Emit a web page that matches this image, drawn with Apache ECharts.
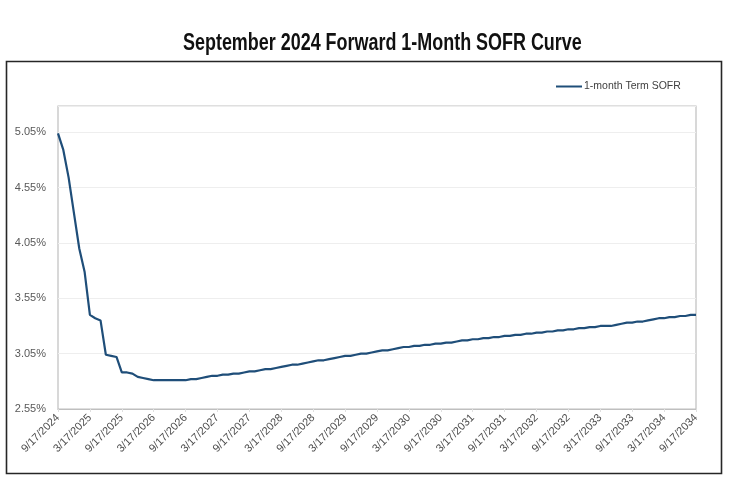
<!DOCTYPE html>
<html>
<head>
<meta charset="utf-8">
<script src="https://cdn.jsdelivr.net/npm/echarts@6/dist/echarts.min.js"></script>
<style>
html,body{margin:0;padding:0;background:#fff;}
#chart{width:739px;height:485px;}
</style>
</head>
<body>
<div id="chart"></div>
<script>
// Forward 1-month Term SOFR, monthly from 9/17/2024 to 9/17/2034 (percent)
const chartTitle = 'September 2024 Forward 1-Month SOFR Curve';
const seriesName = '1-month Term SOFR';
const sofrValues = [
  5.04, 4.89, 4.64, 4.32, 4.00, 3.79, 3.40, 3.37, 3.35, 3.04, 3.03, 3.02,
  2.88, 2.88, 2.87, 2.84, 2.83, 2.82, 2.81, 2.81, 2.81, 2.81, 2.81, 2.81,
  2.81, 2.82, 2.82, 2.83, 2.84, 2.85, 2.85, 2.86, 2.86, 2.87, 2.87, 2.88,
  2.89, 2.89, 2.90, 2.91, 2.91, 2.92, 2.93, 2.94, 2.95, 2.95, 2.96, 2.97,
  2.98, 2.99, 2.99, 3.00, 3.01, 3.02, 3.03, 3.03, 3.04, 3.05, 3.05, 3.06,
  3.07, 3.08, 3.08, 3.09, 3.10, 3.11, 3.11, 3.12, 3.12, 3.13, 3.13, 3.14,
  3.14, 3.15, 3.15, 3.16, 3.17, 3.17, 3.18, 3.18, 3.19, 3.19, 3.20, 3.20,
  3.21, 3.21, 3.22, 3.22, 3.23, 3.23, 3.24, 3.24, 3.25, 3.25, 3.26, 3.26,
  3.27, 3.27, 3.28, 3.28, 3.29, 3.29, 3.30, 3.30, 3.30, 3.31, 3.32, 3.33,
  3.33, 3.34, 3.34, 3.35, 3.36, 3.37, 3.37, 3.38, 3.38, 3.39, 3.39, 3.40,
  3.40
];
const yTickValues = [2.55, 3.05, 3.55, 4.05, 4.55, 5.05];
const startYear = 2024, startMonth = 9, dayOfMonth = 17;

// monthly category labels (M/17/YYYY)
const categories = sofrValues.map((v, i) => {
  const mIdx = startMonth - 1 + i;
  const y = startYear + Math.floor(mIdx / 12);
  const m = (mIdx % 12) + 1;
  return m + '/' + dayOfMonth + '/' + y;
});

const chart = echarts.init(document.getElementById('chart'), null, {renderer: 'canvas'});
const labelColor = '#595959';
const baseFont = 'Liberation Sans, Arial, sans-serif';

chart.setOption({
  animation: false,
  backgroundColor: '#ffffff',
  graphic: [{
    type: 'rect',
    shape: {x: 6.5, y: 61.5, width: 715, height: 412},
    style: {fill: null, stroke: '#262626', lineWidth: 1.6},
    silent: true,
    z: 0
  }, {
    type: 'text',
    x: 183,
    y: 32,
    scaleX: 0.78,
    silent: true,
    style: {
      text: chartTitle,
      fontFamily: 'Liberation Sans, Arial, sans-serif',
      fontWeight: 'bold',
      fontSize: 23,
      fill: '#111',
      textVerticalAlign: 'top'
    }
  }],
  legend: {
    data: [seriesName],
    left: 551,
    top: 76,
    itemWidth: 26,
    itemHeight: 2,
    itemGap: 4,
    icon: 'rect',
    textStyle: {fontFamily: baseFont, fontSize: 10.5, color: '#404040', padding: [0,0,0,-3]}
  },
  grid: {
    left: 58,
    right: 43,
    top: 106,
    bottom: 76,
    show: true,
    borderColor: '#bfbfbf',
    borderWidth: 1.2,
    containLabel: false
  },
  xAxis: {
    type: 'category',
    data: categories,
    boundaryGap: false,
    axisLine: {show: true, lineStyle: {color: '#bfbfbf', width: 1.2}},
    axisTick: {show: true, interval: 5, length: 3, lineStyle: {color: '#e0e0e0'}},
    axisLabel: {
      interval: 5,
      rotate: 45,
      margin: 7,
      fontFamily: baseFont,
      fontSize: 11,
      color: '#4d4d4d'
    },
    splitLine: {show: false}
  },
  yAxis: {
    type: 'value',
    min: 2.55,
    max: 5.287,
    interval: 0.5,
    axisLine: {show: false},
    axisTick: {show: false},
    axisLabel: {
      margin: 12,
      fontFamily: baseFont,
      fontSize: 11,
      color: labelColor,
      formatter: function (v) {
        const hit = yTickValues.find(t => Math.abs(t - v) < 1e-6);
        return hit === undefined ? '' : hit.toFixed(2) + '%';
      }
    },
    splitLine: {show: true, lineStyle: {color: '#eeeeee', width: 1}}
  },
  series: [{
    name: seriesName,
    type: 'line',
    data: sofrValues,
    showSymbol: false,
    symbol: 'none',
    lineStyle: {color: '#1f4e79', width: 2.2},
    itemStyle: {color: '#1f4e79'},
    z: 5
  }]
});
</script>
</body>
</html>
